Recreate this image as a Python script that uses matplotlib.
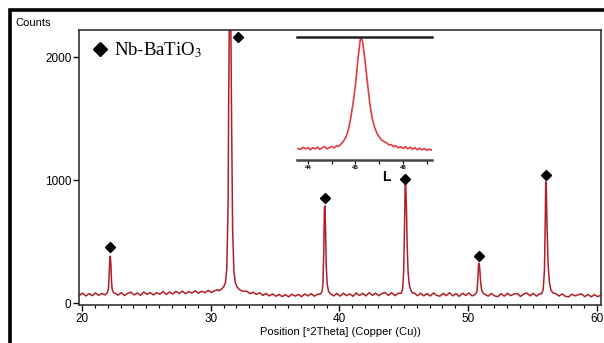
import matplotlib
matplotlib.use("Agg")
import matplotlib.pyplot as plt
from matplotlib.patches import Rectangle
from matplotlib.ticker import MultipleLocator, FixedLocator

plt.rcParams['font.family'] = ['Liberation Sans', 'DejaVu Sans']
plt.rcParams['mathtext.fontset'] = 'stix'

# Background scan: start angle, step, counts
scan_start = 19.8
scan_step = 0.25
baseline_counts = [
    62, 80, 58, 76,   60, 82, 63, 78,   66, 72, 74, 81,   64, 84, 61, 79,
    88, 66, 82, 63,   90, 70, 85, 66,   84, 72, 93, 70,   89, 74, 95, 78,
    97, 76, 92, 82,   99, 80, 96, 84,   103, 86, 100, 108, 105, 110, 120, 115,
    110, 105, 100, 92, 96, 76, 88, 70,  84, 62, 78, 58,   74, 55, 70, 52,
    68, 50, 72, 56,   70, 52, 74, 58,   76, 56, 72, 70,   70, 70, 70, 58,
    78, 56, 80, 60,   74, 55, 82, 62,   79, 58, 84, 63,   80, 60, 77, 86,
    62, 84, 60, 79,   80, 80, 80, 80,   82, 60, 80, 58,   78, 57, 82, 62,
    56, 79, 60, 84,   58, 77, 54, 80,   62, 82, 58, 70,   70, 70, 70, 56,
    78, 58, 52, 76,   56, 80, 60, 74,   78, 54, 72, 82,   58, 79, 56, 76,
    75, 75, 75, 75,   76, 57, 74, 54,   50, 72, 58, 68,   74, 52, 70, 50,
    68, 52, 64,
]

# Peak profiles (2theta, counts)
peak_22_x = [21.95, 22.05, 22.10, 22.15, 22.20, 22.25, 22.30, 22.35, 22.45]
peak_22_y = [80, 110, 200, 330, 380, 310, 170, 110, 85]
peak_31_x = [30.6, 30.8, 31.0, 31.15, 31.25, 31.35, 31.40, 31.45, 31.55, 31.62,
             31.70, 31.80, 31.90, 32.05, 32.2, 32.4, 32.6]
peak_31_y = [100, 110, 130, 170, 280, 800, 1700, 2400, 2400, 1500,
             600, 260, 170, 130, 112, 100, 95]
peak_38_x = [38.55, 38.65, 38.72, 38.78, 38.83, 38.87, 38.92, 38.97, 39.05, 39.15, 39.3]
peak_38_y = [75, 95, 160, 420, 780, 790, 580, 300, 150, 95, 75]
peak_45_x = [44.8, 44.9, 44.98, 45.05, 45.10, 45.14, 45.20, 45.26, 45.33, 45.42, 45.55, 45.7]
peak_45_y = [80, 110, 240, 620, 960, 975, 780, 450, 250, 150, 100, 80]
peak_50_x = [50.55, 50.68, 50.75, 50.80, 50.85, 50.90, 50.97, 51.05, 51.2]
peak_50_y = [70, 95, 200, 315, 323, 270, 160, 100, 75]
peak_56_x = [55.7, 55.82, 55.92, 55.98, 56.02, 56.06, 56.12, 56.2, 56.3, 56.42, 56.6]
peak_56_y = [75, 110, 270, 660, 986, 960, 620, 320, 170, 105, 80]

# Diamond markers for the perovskite reflections
marker_x = [22.2, 32.15, 38.85, 45.12, 50.83, 56.03]
marker_y = [458, 2165, 851, 1010, 382, 1040]

# Inset: zoom on the ~45 deg reflection
inset_x = [43.77, 43.85, 43.90, 43.95, 44.00, 44.05, 44.10, 44.15, 44.20, 44.25,
           44.30, 44.35, 44.40, 44.45, 44.50, 44.55, 44.60, 44.65, 44.70, 44.75,
           44.80, 44.85, 44.90, 44.95, 45.00, 45.05, 45.10, 45.12, 45.15, 45.20,
           45.25, 45.30, 45.35, 45.40, 45.45, 45.50, 45.55, 45.60, 45.65, 45.70,
           45.75, 45.80, 45.85, 45.90, 45.95, 46.00, 46.05, 46.10, 46.15, 46.20,
           46.25, 46.30, 46.35, 46.40, 46.45, 46.50, 46.55, 46.60]
inset_y = [69, 62, 80, 66, 76, 58, 76, 66, 80, 62,
           76, 86, 66, 76, 86, 74, 90, 88, 107, 132,
           165, 224, 324, 449, 599, 808, 975, 1000, 958, 808,
           624, 449, 324, 249, 198, 165, 140, 127, 118, 100,
           102, 84, 92, 74, 85, 70, 84, 66, 80, 62,
           76, 58, 72, 58, 68, 54, 63, 56]
inset_ticks = [44, 45, 46]
inset_labels = ['44', '45', '46']

# merge background and peaks into one trace
peaks = [(peak_22_x, peak_22_y), (peak_31_x, peak_31_y), (peak_38_x, peak_38_y),
         (peak_45_x, peak_45_y), (peak_50_x, peak_50_y), (peak_56_x, peak_56_y)]
points = []
for i, c in enumerate(baseline_counts):
    x = scan_start + scan_step * i
    if not any(px[0] <= x <= px[-1] for px, py in peaks):
        points.append((x, c))
for px, py in peaks:
    points += list(zip(px, py))
points.sort()
two_theta = [p[0] for p in points]
counts = [p[1] for p in points]

fig = plt.figure(figsize=(6.04, 3.43), dpi=100)
W, H = 604, 343

ax = fig.add_axes([79 / W, 1 - 305 / H, 522 / W, 275 / H])
ax.plot(two_theta, counts, color='#b01e28', lw=1.1)
ax.plot(marker_x, marker_y, 'D', color='black', ms=5, ls='none')
ax.set_xlim(19.77, 60.31)
ax.set_ylim(-16, 2220)
ax.xaxis.set_major_locator(MultipleLocator(10))
ax.xaxis.set_minor_locator(MultipleLocator(1))
ax.set_yticks([0, 1000, 2000])
ax.tick_params(which='major', direction='out', length=4, width=1, labelsize=8.5, pad=1.5)
ax.tick_params(which='minor', direction='out', length=2.5, width=0.8)
for s in ax.spines.values():
    s.set_color('#333333')
    s.set_linewidth(1.2)
ax.set_xlabel('Position [°2Theta] (Copper (Cu))', fontsize=8, labelpad=1.5)

# legend
ax.plot([0.040], [0.931], 'D', color='black', ms=7.5, transform=ax.transAxes, clip_on=False)
ax.text(0.067, 0.928, 'Nb-BaTiO$_3$', transform=ax.transAxes, va='center', ha='left',
        fontsize=13.5, family='Liberation Serif')

fig.text(15 / W, 1 - 22.5 / H, 'Counts', fontsize=8, va='center', ha='left')
fig.text(386.5 / W, 1 - 176.5 / H, 'L', fontsize=10, weight='bold', ha='center', va='center')

# inset
axin = fig.add_axes([297 / W, 1 - 160 / H, 135 / W, 123 / H])
axin.set_facecolor('none')
axin.plot(inset_x, inset_y, color='#e23a40', lw=1.2)
axin.set_xlim(43.77, 46.61)
axin.set_ylim(-27, 1000)
axin.spines['left'].set_visible(False)
axin.spines['right'].set_visible(False)
axin.spines['top'].set_color('#222222')
axin.spines['top'].set_linewidth(1.8)
axin.spines['bottom'].set_color('#444444')
axin.spines['bottom'].set_linewidth(1.8)
axin.set_yticks([])
axin.xaxis.set_major_locator(FixedLocator(inset_ticks))
axin.set_xticklabels(inset_labels, fontweight='bold')
axin.xaxis.set_minor_locator(MultipleLocator(0.5))
axin.tick_params(which='both', direction='out', length=3, width=0.8, labelsize=4.5, pad=0.5)

# outer frame
fig.add_artist(Rectangle((10 / W, -0.1), 1.2, 1.1 - 10.5 / H, transform=fig.transFigure,
                         fill=False, edgecolor='black', lw=2.6))

fig.savefig('out.png', dpi=100)
